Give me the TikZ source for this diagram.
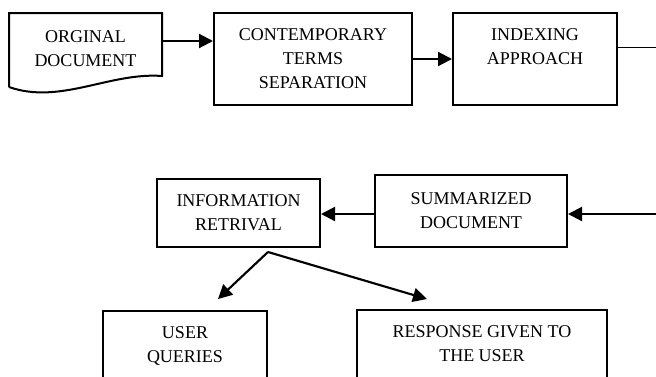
\documentclass[tikz,border=0pt]{standalone}
\usepackage{fontspec}
\setmainfont{Liberation Serif}
\usepackage{tikz}
\usetikzlibrary{arrows.meta,positioning,calc}

\begin{document}
\begin{tikzpicture}[x=0.75pt, y=-0.75pt,
    box/.style={draw, line width=1.5pt, align=center, inner sep=0pt,
      font=\fontsize{13.5}{18}\selectfont},
    arr/.style={line width=1.6pt, -{Triangle[length=10.5pt, width=10.5pt]}},
    thinline/.style={line width=0.75pt}]
        \useasboundingbox (0,0) rectangle (656,376);

        % first row
        \draw[line width=1.5pt] (9,87) -- (9,13) -- (162,13) -- (162,76)
          .. controls (110,72) and (60,105) .. (9,87);
        \node[box, draw=none, minimum width=114.75pt, minimum height=47.25pt] (orig) at (85.5,49)
          {ORGINAL\\DOCUMENT};
        \node[box, minimum width=148.5pt, minimum height=69pt] (terms) at (313,59)
          {CONTEMPORARY\\TERMS\\SEPARATION};
        \node[box, minimum width=123pt, minimum height=69pt] (index) at (535,59)
          {INDEXING\\APPROACH\\\mbox{}};

        % second row
        \node[box, minimum width=144pt, minimum height=54pt] (summ) at (471,211)
          {SUMMARIZED\\DOCUMENT};
        \node[box, minimum width=122.25pt, minimum height=51pt] (info) at (238.5,213)
          {INFORMATION\\RETRIVAL};

        % third row, cut by the page
        \node[box, minimum width=123pt, minimum height=69pt] (queries) at (185,357)
          {USER\\QUERIES\\\mbox{}};
        \node[box, minimum width=187.5pt, minimum height=69pt] (response) at (482,356)
          {RESPONSE GIVEN TO\\THE USER\\\mbox{}};

        \coordinate (edgeA) at (656,47);
        \coordinate (edgeB) at (656,214);
        \coordinate (split) at (268,252);
        \coordinate (qtip) at (218,299);
        \coordinate (rtip) at (427,299);

        \draw[arr] ([yshift=6pt]orig.east) -- ([yshift=6pt]orig.east -| terms.west);
        \draw[arr] (terms) -- (index);
        \draw[thinline] ([yshift=9pt]index.east) -- (edgeA);
        \draw[arr] (edgeB) -- (edgeB -| summ.east);
        \draw[arr] ([yshift=-2.25pt]summ.west) -- ([yshift=-2.25pt]summ.west -| info.east);
        \draw[arr] (split) -- (qtip);
        \draw[arr] (split) -- (rtip);
    \end{tikzpicture}
\end{document}
